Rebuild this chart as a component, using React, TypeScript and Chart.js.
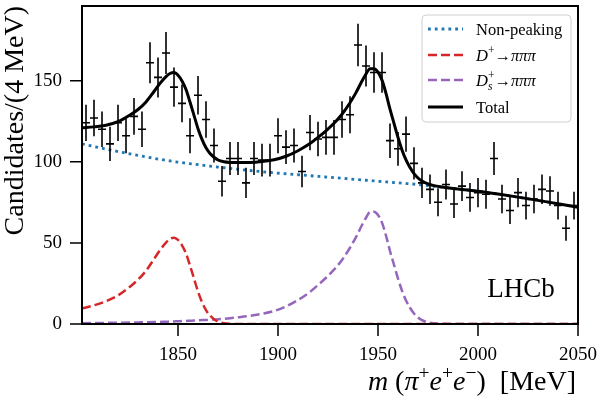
import { useEffect, useRef } from 'react';
import { Chart, registerables } from 'chart.js';

Chart.register(...registerables);

const FONT = '"Liberation Serif", "DejaVu Serif", serif';

// ---- data ----
const binCenters = [
  1804, 1808, 1812, 1816, 1820, 1824, 1828, 1832, 1836, 1840,
  1844, 1848, 1852, 1856, 1860, 1864, 1868, 1872, 1876, 1880,
  1884, 1888, 1892, 1896, 1900, 1904, 1908, 1912, 1916, 1920,
  1924, 1928, 1932, 1936, 1940, 1944, 1948, 1952, 1956, 1960,
  1964, 1968, 1972, 1976, 1980, 1984, 1988, 1992, 1996, 2000,
  2004, 2008, 2012, 2016, 2020, 2024, 2028, 2032, 2036, 2040,
  2044, 2048,
];
const counts = [
  124, 127, 120, 111, 124, 116, 128, 120, 161, 152,
  167, 146, 136, 116, 141, 126, 110, 88, 102, 102,
  87, 102, 101, 101, 116, 109, 110, 94, 118, 114,
  115, 115, 126, 129, 172, 159, 155, 155, 113, 108,
  117, 99, 87, 83, 75, 86, 74, 85, 78, 81,
  80, 102, 77, 70, 81, 73, 77, 83, 82, 73,
  59, 73,
];
const binHalfWidth = 2;

const curveMass = [
  1802, 1808, 1814, 1820, 1826, 1830, 1834, 1838, 1841, 1844,
  1846, 1848, 1850, 1852, 1854, 1856, 1858, 1860, 1862, 1864, 1866, 1868, 1870,
  1873, 1876, 1880,
  1886, 1892, 1898, 1904, 1910, 1916,
  1920, 1924, 1928, 1932, 1936,
  1939, 1942,
  1944, 1946, 1948, 1950, 1952, 1954, 1956, 1958, 1960, 1962, 1964, 1966, 1968, 1970, 1972,
  1975, 1978, 1982,
  1990, 2000, 2010, 2020, 2030, 2040, 2050,
];
const nonPeaking = [
  111.0, 109.4, 107.8, 106.3, 104.9, 103.9, 103.0, 102.1, 101.5, 100.9,
  100.5, 100.2, 99.8, 99.5, 99.1, 98.8, 98.5, 98.2, 97.9, 97.6, 97.3, 97.0, 96.7,
  96.3, 95.9, 95.4,
  94.6, 93.9, 93.2, 92.6, 92.0, 91.4,
  91.0, 90.6, 90.2, 89.8, 89.4,
  89.1, 88.8,
  88.6, 88.4, 88.2, 88.0, 87.8, 87.6, 87.4, 87.2, 87.0, 86.8, 86.6, 86.4, 86.2, 86.0, 85.7,
  85.3, 84.9, 84.4,
  83.2, 81.8, 80.1, 78.2, 76.2, 74.1, 72.0,
];
const dPlusPeak = [
  9.5, 11.5, 14.0, 17.6, 23.0, 27.3, 32.8, 40.0, 45.5, 50.2,
  52.4, 53.2, 51.8, 48.5, 43.5, 36.0, 28.0, 20.0, 13.5, 8.5, 5.2, 3.0, 1.5,
  0.5, 0.1, 0,
  0, 0, 0, 0, 0, 0,
  0, 0, 0, 0, 0,
  0, 0,
  0, 0, 0, 0, 0, 0, 0, 0, 0, 0, 0, 0, 0, 0, 0,
  0, 0, 0,
  0, 0, 0, 0, 0, 0, 0,
];
const dsPeak = [
  0.5, 0.6, 0.7, 0.8, 0.9, 1.0, 1.1, 1.2, 1.3, 1.4,
  1.5, 1.6, 1.7, 1.8, 1.9, 2.0, 2.1, 2.2, 2.4, 2.5, 2.6, 2.8, 2.9,
  3.2, 3.6, 4.1,
  5.0, 6.3, 8.0, 10.8, 14.8, 19.8,
  24.0, 28.5, 33.5, 39.5, 47.0,
  53.5, 61.0,
  65.5, 69.0, 69.2, 67.2, 62.5, 54.5, 45.0, 36.5, 28.0, 20.5, 14.5, 10.0, 6.5, 4.0, 2.4,
  1.0, 0.4, 0.1,
  0, 0, 0, 0, 0, 0, 0,
];
const totalFit = [
  121.0, 121.5, 122.5, 124.7, 128.8, 132.2, 136.9, 143.3, 148.3, 152.5,
  154.4, 155.0, 153.3, 149.8, 144.5, 136.8, 128.6, 120.4, 113.8, 108.6, 105.1, 102.8, 101.1,
  100.0, 99.6, 99.5,
  99.6, 100.2, 101.2, 103.4, 106.8, 111.2,
  115.0, 119.1, 123.7, 129.3, 136.4,
  142.6, 149.8,
  154.1, 157.4, 157.4, 155.2, 150.3, 142.1, 132.4, 123.7, 115.0, 107.3, 101.1, 96.4, 92.7, 90.0, 88.1,
  86.3, 85.3, 84.5,
  83.2, 81.8, 80.1, 78.2, 76.2, 74.1, 72.0,
];

const xMin = 1802;
const xMax = 2050;
const yMin = 0;
const yMax = 196;
const tickStep = 10;
const majorEvery = 50;

// ---- rich text ----
type Seg = { t: string; it?: boolean; sc?: number; dy?: number; stack?: boolean };

const legendSegs: Record<string, Seg[]> = {
  'Non-peaking': [{ t: 'Non-peaking' }],
  'D+→πππ': [{ t: 'D', it: true }, { t: '+', sc: 0.7, dy: -0.38 }, { t: '→' }, { t: 'πππ', it: true }],
  'Ds+→πππ': [
    { t: 'D', it: true },
    { t: '+', sc: 0.7, dy: -0.38, stack: true },
    { t: 's', it: true, sc: 0.7, dy: 0.28 },
    { t: '→' },
    { t: 'πππ', it: true },
  ],
  Total: [{ t: 'Total' }],
};

const xTitleSegs: Seg[] = [
  { t: 'm', it: true },
  { t: ' (' },
  { t: 'π', it: true },
  { t: '+', sc: 0.7, dy: -0.4 },
  { t: 'e', it: true },
  { t: '+', sc: 0.7, dy: -0.4 },
  { t: 'e', it: true },
  { t: '−', sc: 0.7, dy: -0.4 },
  { t: ')' },
  { t: '  [MeV]' },
];

function segFont(seg: Seg, size: number) {
  return `${seg.it ? 'italic ' : ''}${(size * (seg.sc ?? 1)).toFixed(1)}px ${FONT}`;
}

function layoutRich(ctx: CanvasRenderingContext2D, segs: Seg[], size: number) {
  const items: { seg: Seg; x: number }[] = [];
  let x = 0;
  let pending = 0;
  for (const seg of segs) {
    ctx.font = segFont(seg, size);
    const w = ctx.measureText(seg.t).width;
    items.push({ seg, x });
    if (seg.stack) pending = Math.max(pending, w);
    else {
      x += Math.max(w, pending);
      pending = 0;
    }
  }
  return { items, width: x };
}

function drawRich(ctx: CanvasRenderingContext2D, segs: Seg[], x: number, y: number, size: number, align: 'left' | 'right') {
  const { items, width } = layoutRich(ctx, segs, size);
  const x0 = align === 'right' ? x - width : x;
  ctx.textAlign = 'left';
  ctx.textBaseline = 'alphabetic';
  for (const it of items) {
    ctx.font = segFont(it.seg, size);
    ctx.fillText(it.seg.t, x0 + it.x, y + (it.seg.dy ?? 0) * size);
  }
}

// ---- plugins ----
const frameTicksPlugin = {
  id: 'frameTicks',
  afterDatasetsDraw(chart: any) {
    const { ctx, chartArea: ca, scales } = chart;
    const xs = scales.x;
    const ys = scales.y;
    ctx.save();
    ctx.strokeStyle = '#000';
    ctx.lineWidth = 1.5;
    ctx.beginPath();
    for (const t of xs.ticks) {
      const px = xs.getPixelForValue(t.value);
      const len = t.value % majorEvery === 0 ? 12 : 6.5;
      ctx.moveTo(px, ca.bottom);
      ctx.lineTo(px, ca.bottom + len);
    }
    for (const t of ys.ticks) {
      const py = ys.getPixelForValue(t.value);
      const len = t.value % majorEvery === 0 ? 12 : 6.5;
      ctx.moveTo(ca.left, py);
      ctx.lineTo(ca.left - len, py);
    }
    ctx.stroke();
    ctx.lineWidth = 2;
    ctx.strokeRect(ca.left, ca.top, ca.right - ca.left, ca.bottom - ca.top);
    ctx.restore();
  },
};

const legendPlugin = {
  id: 'insideLegend',
  afterDraw(chart: any) {
    const { ctx, chartArea: ca } = chart;
    const boxW = 149;
    const boxH = 107;
    const bx = ca.right - 7 - boxW;
    const by = ca.top + 9;
    ctx.save();
    ctx.beginPath();
    ctx.roundRect(bx, by, boxW, boxH, 4);
    ctx.fillStyle = 'rgba(255,255,255,0.85)';
    ctx.fill();
    ctx.strokeStyle = '#d0d0d0';
    ctx.lineWidth = 1;
    ctx.stroke();
    const entries = chart.data.datasets.filter((d: any) => d.inLegend);
    const rowY = [14, 40, 65, 92];
    entries.forEach((d: any, i: number) => {
      const cy = by + rowY[i];
      ctx.save();
      ctx.strokeStyle = d.borderColor;
      ctx.lineWidth = d.borderWidth;
      ctx.setLineDash(d.borderDash || []);
      ctx.beginPath();
      ctx.moveTo(bx + 6, cy);
      ctx.lineTo(bx + 41, cy);
      ctx.stroke();
      ctx.restore();
      ctx.fillStyle = '#000';
      drawRich(ctx, legendSegs[d.label] || [{ t: d.label }], bx + 54, cy + 5.5, 16.5, 'left');
    });
    ctx.restore();
  },
};

const textPlugin = {
  id: 'extraText',
  afterDraw(chart: any) {
    const { ctx, chartArea: ca } = chart;
    ctx.save();
    ctx.fillStyle = '#000';
    ctx.font = `27px ${FONT}`;
    ctx.textAlign = 'center';
    ctx.textBaseline = 'alphabetic';
    ctx.fillText('LHCb', ca.right - 57, ca.bottom - 27);
    drawRich(ctx, xTitleSegs, ca.right - 2, 390, 28, 'right');
    ctx.restore();
  },
};

function zeroPad(s: any) {
  s.paddingLeft = 0;
  s.paddingRight = 0;
  s.paddingTop = 0;
  s.paddingBottom = 0;
}

export default function App() {
  const ref = useRef<HTMLCanvasElement | null>(null);

  useEffect(() => {
    if (!ref.current) return;
    const curve = (vals: number[]) => curveMass.map((m, i) => ({ x: m, y: vals[i] }));
    const errData: { x: number; y: number | null }[] = [];
    binCenters.forEach((c, i) => {
      const n = counts[i];
      const e = Math.sqrt(n);
      errData.push({ x: c, y: n - e }, { x: c, y: n + e }, { x: c, y: null });
      errData.push({ x: c - binHalfWidth, y: n }, { x: c + binHalfWidth, y: n }, { x: c, y: null });
    });

    const chart = new Chart(ref.current, {
      type: 'line',
      data: {
        datasets: [
          {
            label: 'Non-peaking',
            inLegend: true,
            data: curve(nonPeaking),
            borderColor: '#1f77b4',
            borderWidth: 2.8,
            borderDash: [2.8, 4],
            pointRadius: 0,
            cubicInterpolationMode: 'monotone',
            order: 2,
          } as any,
          {
            label: 'D+→πππ',
            inLegend: true,
            data: curve(dPlusPeak),
            borderColor: '#d62728',
            borderWidth: 2.5,
            borderDash: [9, 4],
            pointRadius: 0,
            cubicInterpolationMode: 'monotone',
            order: 3,
          } as any,
          {
            label: 'Ds+→πππ',
            inLegend: true,
            data: curve(dsPeak),
            borderColor: '#9467bd',
            borderWidth: 2.5,
            borderDash: [9, 4],
            pointRadius: 0,
            cubicInterpolationMode: 'monotone',
            order: 4,
          } as any,
          {
            label: 'Total',
            inLegend: true,
            data: curve(totalFit),
            borderColor: '#000000',
            borderWidth: 3,
            pointRadius: 0,
            cubicInterpolationMode: 'monotone',
            order: 0,
          } as any,
          {
            label: 'Data',
            inLegend: false,
            data: errData,
            borderColor: '#000000',
            borderWidth: 1.6,
            pointRadius: 0,
            spanGaps: false,
            tension: 0,
            order: 1,
          } as any,
        ],
      },
      options: {
        animation: false,
        responsive: false,
        devicePixelRatio: 1,
        events: [],
        layout: { padding: { left: 0, right: 20, top: 6, bottom: 0 } },
        plugins: { legend: { display: false }, tooltip: { enabled: false } },
        scales: {
          x: {
            type: 'linear',
            min: xMin,
            max: xMax,
            afterFit: (s: any) => {
              s.height = 72;
              zeroPad(s);
            },
            grid: { display: false, drawTicks: false },
            border: { display: false },
            ticks: {
              stepSize: tickStep,
              includeBounds: false,
              autoSkip: false,
              maxRotation: 0,
              padding: 20,
              color: '#000',
              font: { family: FONT, size: 19 },
              callback: (v: any) => (Number(v) % majorEvery === 0 ? String(v) : null),
            },
          },
          y: {
            min: yMin,
            max: yMax,
            afterFit: (s: any) => {
              s.width = 82;
              zeroPad(s);
            },
            grid: { display: false, drawTicks: false },
            border: { display: false },
            ticks: {
              stepSize: tickStep,
              includeBounds: false,
              autoSkip: false,
              padding: 20,
              color: '#000',
              font: { family: FONT, size: 19 },
              callback: (v: any) => (Number(v) % majorEvery === 0 ? String(v) : null),
            },
            title: {
              display: true,
              text: 'Candidates/(4 MeV)',
              align: 'end',
              color: '#000',
              font: { family: FONT, size: 28, lineHeight: 1.1 },
              padding: { top: 0, bottom: 0 },
            },
          },
        },
      } as any,
      plugins: [frameTicksPlugin, legendPlugin, textPlugin],
    });
    return () => chart.destroy();
  }, []);

  return (
    <div style={{ position: 'fixed', left: 0, top: 0, width: 598, height: 396, background: '#fff' }}>
      <canvas ref={ref} width={598} height={396} style={{ display: 'block', width: 598, height: 396 }} />
    </div>
  );
}
